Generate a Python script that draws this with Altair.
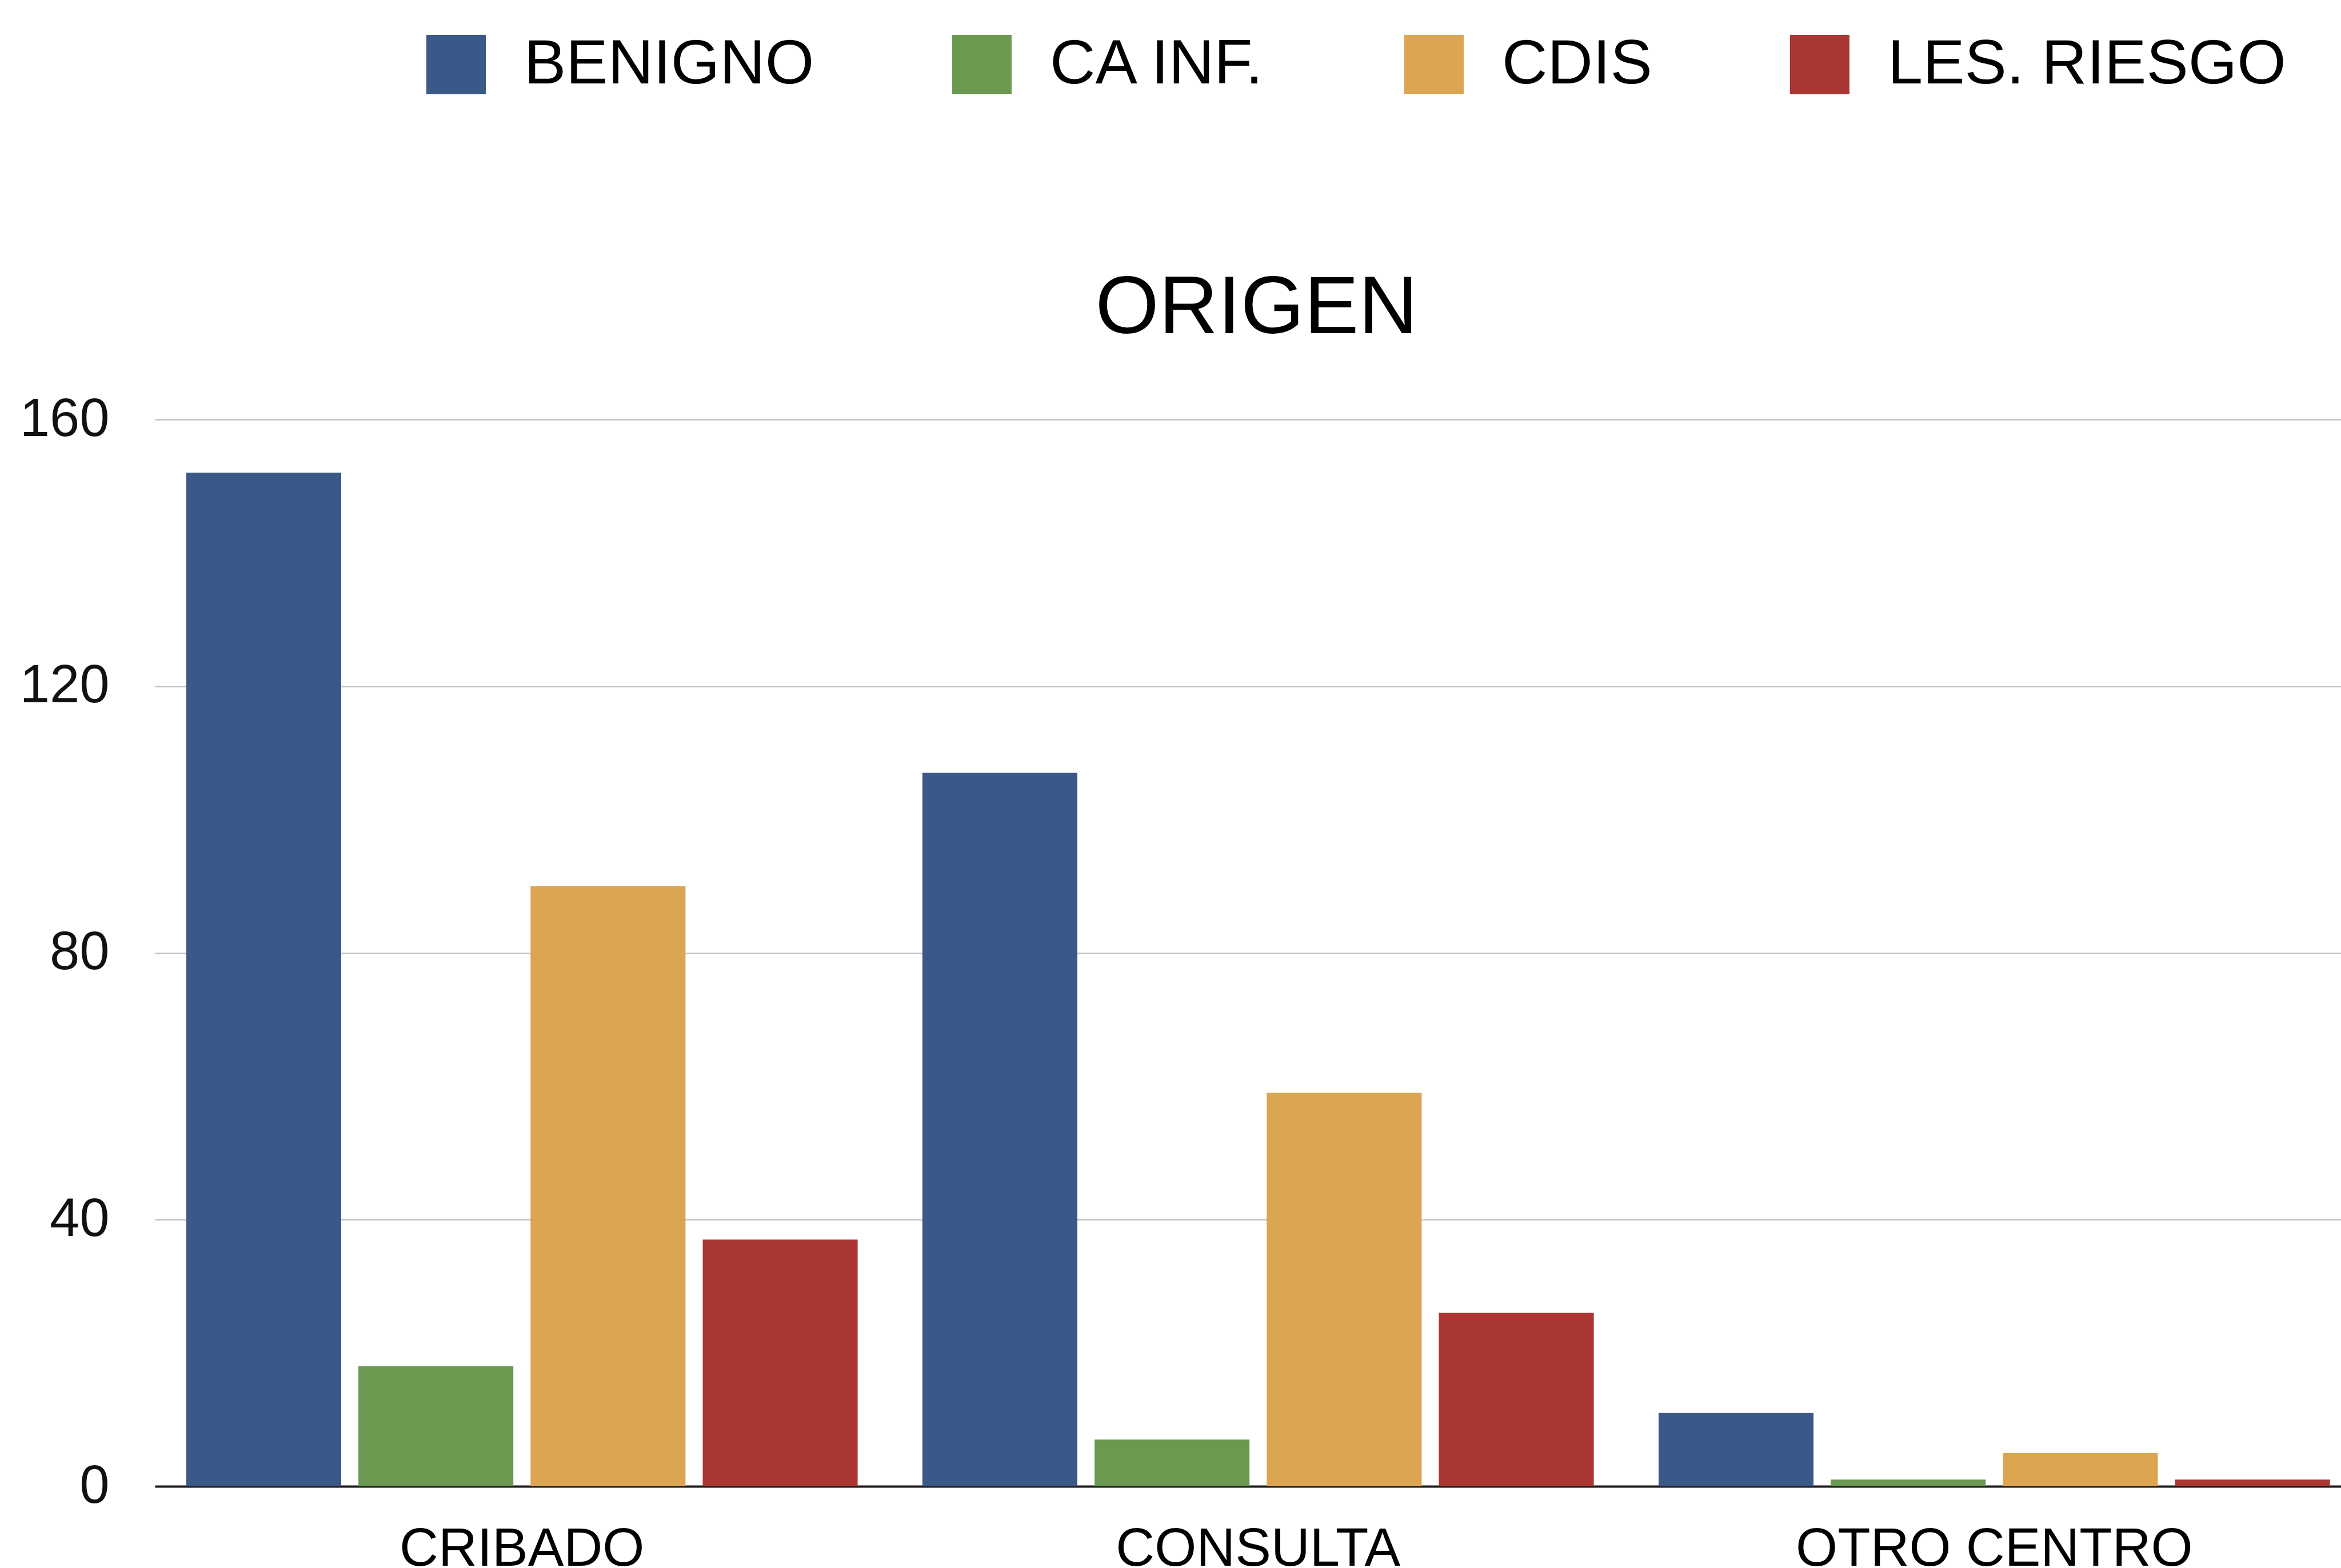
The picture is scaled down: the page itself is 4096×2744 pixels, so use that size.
import altair as alt
import pandas as pd

# Categories, series and counts
categories = ["CRIBADO", "CONSULTA", "OTRO CENTRO"]
series = ["BENIGNO", "CA INF.", "CDIS", "LES. RIESGO"]
benigno = [152, 107, 11]
ca_inf = [18, 7, 1]
cdis = [90, 59, 5]
les_riesgo = [37, 26, 1]
colors = ["#3a5888", "#6a9a50", "#dca552", "#ab3735"]
y_ticks = [0, 40, 80, 120, 160]

rows = []
for name, vals in zip(series, [benigno, ca_inf, cdis, les_riesgo]):
    for cat, v in zip(categories, vals):
        rows.append({"origen": cat, "tipo": name, "n": v})
df = pd.DataFrame(rows)

FONT = "Liberation Sans"
LEFT, TOP, BOTTOM = 271, 734, 143
W, H = 3825, 1867

chart = alt.Chart(df).mark_bar().encode(
    x=alt.X(
        "origen:N",
        sort=categories,
        title=None,
        scale=alt.Scale(paddingInner=0.088, paddingOuter=0.0288, align=0.74),
        axis=alt.Axis(
            labelAngle=0, ticks=False, grid=False,
            domain=True, domainColor="#1a1a1a", domainWidth=4,
            labelFont=FONT, labelFontSize=94, labelColor="#000000",
            labelPadding=64, labelBaseline="top", labelLimit=0,
        ),
    ),
    xOffset=alt.XOffset("tipo:N", sort=series, scale=alt.Scale(paddingInner=0.10)),
    y=alt.Y(
        "n:Q",
        title=None,
        scale=alt.Scale(domain=[0, 160], nice=False),
        axis=alt.Axis(
            values=y_ticks, ticks=False, domain=False,
            gridColor="#c2c2c2", gridWidth=2.5,
            labelFont=FONT, labelFontSize=94, labelColor="#111111",
            labelPadding=80,
        ),
    ),
    color=alt.Color(
        "tipo:N",
        sort=series,
        scale=alt.Scale(domain=series, range=colors),
        legend=alt.Legend(
            orient="none", legendX=472, legendY=-676,
            direction="horizontal", columns=4, title=None,
            symbolType="square", symbolSize=10816, symbolStrokeWidth=0,
            symbolOpacity=1,
            labelFont=FONT, labelFontSize=110, labelColor="#000000",
            labelOffset=64, columnPadding=238, padding=0, labelLimit=0,
        ),
    ),
).properties(
    width=W,
    height=H,
    title=alt.TitleParams(
        "ORIGEN", font=FONT, fontSize=143, fontWeight="normal",
        color="#000000", baseline="alphabetic", offset=100, dx=15, dy=768,
    ),
    autosize="none",
    padding={"left": LEFT, "top": TOP, "right": 0, "bottom": BOTTOM},
).configure_view(stroke=None)

chart.save("out.html", embed_options={"renderer": "svg", "actions": False})
